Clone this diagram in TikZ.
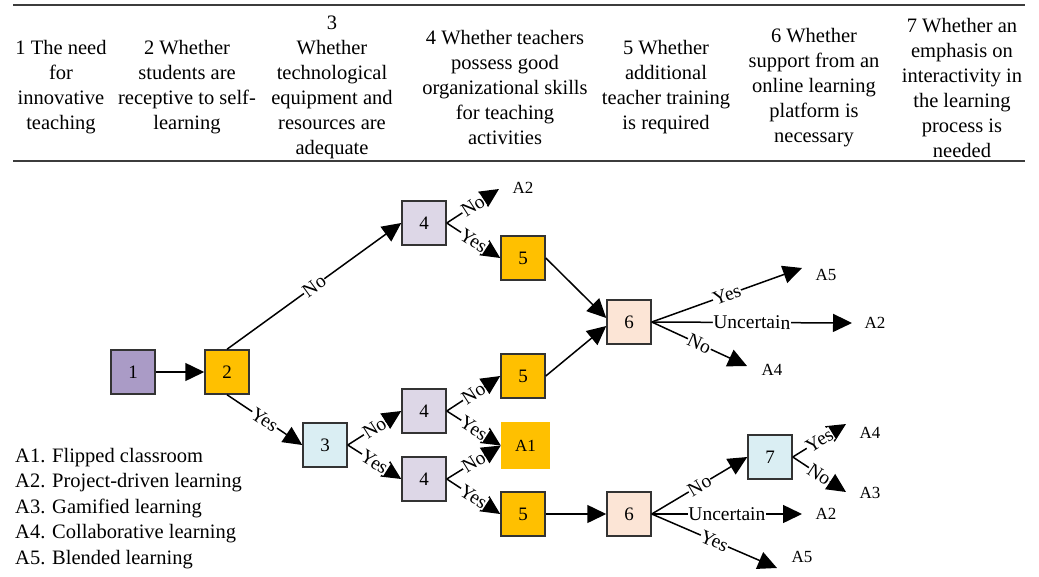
\documentclass[tikz,border=0pt]{standalone}
\usepackage{fontspec}
\setmainfont{Liberation Serif}
\usetikzlibrary{arrows.meta}
\definecolor{boxpurple}{RGB}{170,155,198}
\definecolor{boxorange}{RGB}{255,192,0}
\definecolor{boxlilac}{RGB}{221,215,231}
\definecolor{boxblue}{RGB}{218,238,243}
\definecolor{boxpeach}{RGB}{252,229,214}
\definecolor{rulegray}{RGB}{60,60,60}
\tikzset{
  head/.style={align=center, inner sep=0pt, font=\fontsize{20.5}{25}\selectfont},
  box/.style={draw=black!80, line width=1.5pt, minimum size=44pt, inner sep=0pt,
    font=\fontsize{19}{19}\selectfont},
  arr/.style={line width=1.5pt, -{Triangle[length=19pt,width=18pt]}},
  lab/.style={midway, sloped, fill=white, inner sep=0.5pt, font=\fontsize{19.5}{19.5}\selectfont},
  term/.style={inner sep=0pt, font=\fontsize{17}{17}\selectfont},
}
\begin{document}
\begin{tikzpicture}[x=1pt,y=-1pt]
  \useasboundingbox (0,0) rectangle (1039,576);
  % table head
  \draw[rulegray, line width=2pt] (13,5) -- (1025,5);
  \draw[rulegray, line width=2pt] (13,161) -- (1025,161);
  \foreach \x/\t [count=\i] in {
      61/{1 The need\\for\\innovative\\teaching},
      187/{2 Whether\\students are\\receptive to self-\\learning},
      332/{3\\Whether\\technological\\equipment and\\resources are\\adequate},
      505/{4 Whether teachers\\possess good\\organizational skills\\for teaching\\activities},
      666/{5 Whether\\additional\\teacher training\\is required},
      814/{6 Whether\\support from an\\online learning\\platform is\\necessary},
      962/{7 Whether an\\emphasis on\\interactivity in\\the learning\\process is\\needed}} {
    \node[head] (h\i) at (\x,87.5) {\t};
  }
  % decision boxes
  \node[box, fill=boxpurple] (n1) at (133,372) {1};
  \node[box, fill=boxorange] (n2) at (227,372) {2};
  \node[box, fill=boxblue] (n3) at (325,445) {3};
  \node[box, fill=boxlilac] (n4a) at (424,223) {4};
  \node[box, fill=boxlilac] (n4b) at (424,411) {4};
  \node[box, fill=boxlilac] (n4c) at (424,479) {4};
  \node[box, fill=boxorange] (n5a) at (523,258) {5};
  \node[box, fill=boxorange] (n5b) at (523,376) {5};
  \node[box, fill=boxorange] (n5c) at (523,514) {5};
  \node[box, fill=boxpeach] (n6a) at (629,322) {6};
  \node[box, fill=boxpeach] (n6b) at (629,514) {6};
  \node[box, fill=boxblue] (n7) at (770,457) {7};
  \node[term, fill=boxorange, minimum width=49pt, minimum height=47pt] (a1) at (525.5,445.5) {A1};
  % outcomes
  \coordinate (t1) at (499,189);
  \coordinate (t2) at (802,268);
  \coordinate (t3) at (852,323);
  \coordinate (t4) at (747,366);
  \coordinate (t5) at (802,514);
  \coordinate (t6) at (777,568);
  \coordinate (t7) at (846,424);
  \coordinate (t8) at (846,492);
  \node[term] (o1) at (523,188) {A2};
  \node[term] (o2) at (826,275) {A5};
  \node[term] (o3) at (875,323) {A2};
  \node[term] (o4) at (772,370) {A4};
  \node[term] (o5) at (826,514) {A2};
  \node[term] (o6) at (802,557) {A5};
  \node[term] (o7) at (870,433) {A4};
  \node[term] (o8) at (870,493) {A3};
  % branches
  \draw[arr] (n1) -- (n2);
  \draw[arr] (n2.north) -- (n4a.west) node[lab] {No};
  \draw[arr] (n2.south) -- (n3.west) node[lab] {Yes};
  \draw[arr] (n4a.east) -- (t1) node[lab] {No};
  \draw[arr] (n4a.east) -- (n5a.west) node[lab] {Yes};
  \draw[arr] (n3.east) -- (n4b.west) node[lab] {No};
  \draw[arr] (n3.east) -- (n4c.west) node[lab] {Yes};
  \draw[arr] (n4b.east) -- (n5b.west) node[lab] {No};
  \draw[arr] (n4b.east) -- (a1.west) node[lab] {Yes};
  \draw[arr] (n4c.east) -- (a1.west) node[lab] {No};
  \draw[arr] (n4c.east) -- (n5c.west) node[lab] {Yes};
  \draw[arr] (n5a.east) -- ([yshift=4pt]n6a.west);
  \draw[arr] (n5b.east) -- ([yshift=-4pt]n6a.west);
  \draw[arr] (n5c.east) -- (n6b.west);
  \draw[arr] (n6a.east) -- (t2) node[lab] {Yes};
  \draw[arr] (n6a.east) -- (t3) node[lab] {Uncertain};
  \draw[arr] (n6a.east) -- (t4) node[lab] {No};
  \draw[arr] (n6b.east) -- (n7.west) node[lab] {No};
  \draw[arr] (n6b.east) -- (t5) node[lab] {Uncertain};
  \draw[arr] (n6b.east) -- (t6) node[lab] {Yes};
  \draw[arr] (n7.east) -- (t7) node[lab] {Yes};
  \draw[arr] (n7.east) -- (t8) node[lab] {No};
  % legend
  \foreach \t [count=\i] in {A1. Flipped classroom, A2. Project-driven learning,
      A3. Gamified learning, A4. Collaborative learning, A5. Blended learning} {
    \node[head, anchor=base west] (leg\i) at (15,436.5+25.5*\i) {\t};
  }
\end{tikzpicture}
\end{document}
